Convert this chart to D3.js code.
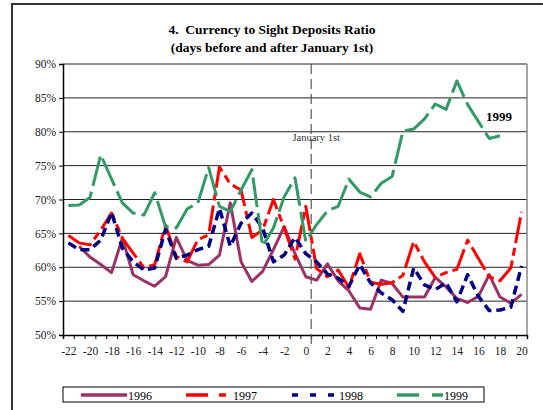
<!DOCTYPE html>
<html>
<head>
<meta charset="utf-8">
<script src="https://cdn.jsdelivr.net/npm/d3@7"></script>
<style>
  body { margin: 0; background: #fff; }
  svg { display: block; font-family: "Liberation Serif", "Times New Roman", serif; }
</style>
</head>
<body>
<svg id="chart" width="543" height="410"></svg>
<script>
// days before and after January 1st
const days = [-22, -21, -20, -19, -18, -17, -16, -15, -14, -13, -12, -11, -10, -9, -8, -7, -6, -5, -4, -3, -2, -1,
              0, 1, 2, 3, 4, 5, 6, 7, 8, 9, 10, 11, 12, 13, 14, 15, 16, 17, 18, 19, 20];

// ratio in %, one value per day (null = no value)
const y1996 = [null, 63.1, 61.5, 60.4, 59.2, 64.3, 58.9, 58.0, 57.2, 58.6, 64.4, 61.0, 60.3, 60.4, 61.8, 69.5, 60.8, 57.9, 59.4, 62.6, 66.0, 62.0,
               58.6, 58.1, 60.5, 58.0, 56.5, 54.0, 53.8, 58.1, 57.6, 55.6, 55.6, 55.6, 58.5, 57.1, 55.4, 54.8, 55.7, 58.9, 55.6, 54.7, 56.0];
const y1997 = [64.7, 63.6, 63.3, 65.5, 68.0, 64.3, 62.1, 59.9, 60.4, 66.2, 61.6, 60.8, 64.1, 64.8, 74.8, 72.3, 71.4, 64.4, 65.5, 70.0, 65.8, 61.2,
               69.0, 59.8, 58.6, 59.6, 57.0, 62.0, 57.8, 57.5, 57.7, 58.8, 63.8, 60.8, 58.5, 59.2, 59.7, 64.0, 61.3, 58.6, 58.0, 59.9, 68.2];
const y1998 = [63.6, 62.6, 62.6, 64.0, 68.1, 62.8, 60.8, 59.6, 59.9, 65.6, 61.3, 61.8, 62.6, 63.1, 68.7, 63.1, 66.5, 68.0, 65.8, 60.8, 61.8, 64.4,
               62.0, 60.8, 59.0, 58.4, 57.2, 60.4, 57.7, 56.2, 55.2, 53.5, 59.9, 57.4, 56.7, 57.7, 54.9, 58.9, 55.7, 53.6, 53.7, 54.1, 60.2];
const y1999 = [69.1, 69.2, 70.3, 76.6, 73.0, 69.5, 68.0, 67.7, 71.0, 66.0, 65.8, 68.6, 69.5, 74.7, 69.0, 68.2, 71.4, 74.4, 63.1, 65.8, 70.4, 73.2,
               63.8, 66.3, 68.3, 69.0, 73.0, 71.1, 70.4, 72.4, 73.4, 80.1, 80.4, 81.9, 84.1, 83.3, 87.5, 84.0, 81.5, 79.0, 79.4, null, null];

const yTicks = [50, 55, 60, 65, 70, 75, 80, 85, 90];
const xLabels = [-22, -20, -18, -16, -14, -12, -10, -8, -6, -4, -2, 0, 2, 4, 6, 8, 10, 12, 14, 16, 18, 20];

const series = [
    {name: "1996", values: y1996, color: "#993366", dash: null,         legendDash: null,          width: 3},
    {name: "1997", values: y1997, color: "#ff0000", dash: "26 5 8 5",   legendDash: "22 11 7 11",  width: 3},
    {name: "1998", values: y1998, color: "#000080", dash: "9 5",        legendDash: "6 12",        width: 3.5},
    {name: "1999", values: y1999, color: "#339966", dash: "30 6",       legendDash: "22 13 12 13", width: 3}
];

const svg = d3.select("#chart");

// outer frame (only top and left are visible)
svg.append("path")
    .attr("d", "M12,420 L12,4 L560,4")
    .attr("fill", "none")
    .attr("stroke", "#333")
    .attr("stroke-width", 2);

// plot area
const plot = {left: 63, right: 527, top: 64, bottom: 335};

const x = d3.scaleLinear()
    .domain([days[0] - 0.5, days[days.length - 1] + 0.5])
    .range([plot.left, plot.right]);

const y = d3.scaleLinear()
    .domain([50, 90])
    .range([plot.bottom, plot.top]);

// gridlines
svg.append("g")
    .selectAll("line")
    .data(yTicks.filter(d => d > 50))
    .enter()
    .append("line")
    .attr("x1", plot.left)
    .attr("x2", plot.right)
    .attr("y1", d => y(d))
    .attr("y2", d => y(d))
    .attr("stroke", "#222")
    .attr("stroke-width", 1);

// right border of plot
svg.append("line")
    .attr("x1", plot.right).attr("x2", plot.right)
    .attr("y1", plot.top).attr("y2", plot.bottom)
    .attr("stroke", "#888")
    .attr("stroke-width", 1.5);

// y axis
const yAxis = svg.append("g")
    .attr("transform", "translate(" + plot.left + ",0)")
    .call(d3.axisLeft(y).tickValues(yTicks).tickSize(4).tickFormat(d => d + "%"));
yAxis.select(".domain").attr("stroke", "#000").attr("stroke-width", 1.5);
yAxis.selectAll("line").attr("stroke", "#000");
yAxis.selectAll("text")
    .attr("font-family", "Liberation Serif")
    .attr("font-size", 11.5)
    .attr("fill", "#222")
    .attr("x", -7);

// x axis: ticks at category boundaries
const boundaries = days.map(d => d - 0.5).concat([days[days.length - 1] + 0.5]);
const xAxis = svg.append("g")
    .attr("transform", "translate(0," + plot.bottom + ")")
    .call(d3.axisBottom(x).tickValues(boundaries).tickSize(4).tickFormat(""));
xAxis.select(".domain").attr("stroke", "#000").attr("stroke-width", 1.5);
xAxis.selectAll("line").attr("stroke", "#000");

// x labels every second day (plain hyphen as minus)
const xLab = svg.append("g")
    .attr("transform", "translate(0," + plot.bottom + ")")
    .call(d3.axisBottom(x).tickValues(xLabels).tickSize(0).tickPadding(12).tickFormat(d => String(d)));
xLab.select(".domain").remove();
xLab.selectAll("text")
    .attr("font-family", "Liberation Serif")
    .attr("font-size", 11.5)
    .attr("fill", "#222");

// January 1st line
svg.append("line")
    .attr("x1", x(0.5)).attr("x2", x(0.5))
    .attr("y1", plot.top).attr("y2", 349)
    .attr("stroke", "#555")
    .attr("stroke-width", 1.2)
    .attr("stroke-dasharray", "10 5");

svg.append("text")
    .attr("x", x(0.5) + 5)
    .attr("y", 141)
    .attr("text-anchor", "middle")
    .attr("font-size", 10.5)
    .attr("fill", "#333")
    .text("January 1st");

// series lines
const line = d3.line()
    .defined(d => d.v !== null)
    .x(d => x(d.day))
    .y(d => y(d.v));

series.forEach(function (s) {
    const pts = days.map((d, i) => ({day: d, v: s.values[i]}));
    svg.append("path")
        .datum(pts)
        .attr("d", line)
        .attr("fill", "none")
        .attr("stroke", s.color)
        .attr("stroke-width", s.width)
        .attr("stroke-linejoin", "round")
        .attr("stroke-dasharray", s.dash);
});

// label for 1999
svg.append("text")
    .attr("x", 486)
    .attr("y", 121)
    .attr("font-size", 13)
    .attr("font-weight", "bold")
    .text("1999");

// title
const title = svg.append("text")
    .attr("text-anchor", "middle")
    .attr("font-size", 13.5)
    .attr("font-weight", "bold");
title.append("tspan").attr("x", 272).attr("y", 34).text("4.\u00a0 Currency to Sight Deposits Ratio");
title.append("tspan").attr("x", 272).attr("y", 52).text("(days before and after January 1st)");

// legend
svg.append("rect")
    .attr("x", 63).attr("y", 387)
    .attr("width", 421).attr("height", 15)
    .attr("fill", "#fff")
    .attr("stroke", "#000")
    .attr("stroke-width", 1);

const legendX = [81, 186, 292, 397];
series.forEach(function (s, i) {
    svg.append("line")
        .attr("x1", legendX[i]).attr("x2", legendX[i] + 46)
        .attr("y1", 395).attr("y2", 395)
        .attr("stroke", s.color)
        .attr("stroke-width", 3.5)
        .attr("stroke-dasharray", s.legendDash);
    svg.append("text")
        .attr("x", legendX[i] + 47)
        .attr("y", 400)
        .attr("font-size", 12)
        .text(s.name);
});
</script>
</body>
</html>
